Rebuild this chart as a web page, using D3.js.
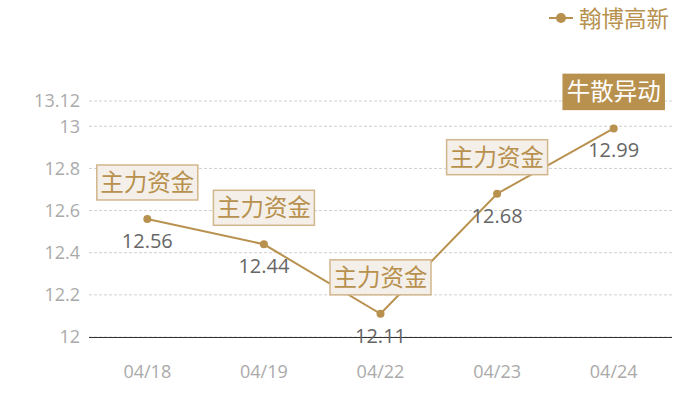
<!DOCTYPE html>
<html><head><meta charset="utf-8">
<script src="https://cdn.jsdelivr.net/npm/d3@7"></script>
<style>body{margin:0;background:#fff}svg{display:block}</style>
</head><body><svg id="c" width="700" height="400"></svg>
<script>
const categories = ["04/18","04/19","04/22","04/23","04/24"];
const values = [12.56, 12.44, 12.11, 12.68, 12.99];
const yTicks = [12, 12.2, 12.4, 12.6, 12.8, 13, 13.12];
const tags = ["主力资金","主力资金","主力资金","主力资金","牛散异动"];
const tagFilled = [false,false,false,false,true];
const seriesName = "翰博高新";

const gold = "#b8914f";
const svg = d3.select("#c");
const m = {l:89, r:672, t:101, b:337};
const x = d3.scaleBand().domain(categories).range([m.l, m.r]);
const y = d3.scaleLinear().domain([12, 13.12]).range([m.b, m.t]);
const cx = d => x(d) + x.bandwidth()/2;
const numFont = "'Open Sans','Noto Sans',sans-serif";
const cjkFont = "'Noto Sans CJK SC',sans-serif";

// grid
svg.append("g").selectAll("line").data(yTicks).join("line")
  .attr("x1", m.l).attr("x2", m.r).attr("y1", d=>y(d)).attr("y2", d=>y(d))
  .attr("stroke", "#d0d0d0").attr("stroke-dasharray", "3,2").attr("stroke-width",1);
// y labels
svg.append("g").selectAll("text").data(yTicks).join("text")
  .attr("x", 80).attr("y", d=>y(d)).attr("dy","0.36em").attr("text-anchor","end")
  .attr("fill","#aaa").attr("font-size",18).attr("font-family",numFont).text(d=>d);
// axis line
svg.append("line").attr("x1",m.l).attr("x2",m.r).attr("y1",m.b+0.5).attr("y2",m.b+0.5)
  .attr("stroke","#333").attr("stroke-width",1);
// x labels
svg.append("g").selectAll("text").data(categories).join("text")
  .attr("x", d=>cx(d)).attr("y", 372).attr("dy","0.36em").attr("text-anchor","middle")
  .attr("fill","#aaa").attr("font-size",18).attr("font-family",numFont).text(d=>d);

const pts = categories.map((c,i)=>({c, v:values[i], tag:tags[i], filled:tagFilled[i]}));
// line
svg.append("path").datum(pts)
  .attr("d", d3.line().x(d=>cx(d.c)).y(d=>y(d.v)))
  .attr("fill","none").attr("stroke",gold).attr("stroke-width",2);
// points
svg.append("g").selectAll("circle").data(pts).join("circle")
  .attr("cx", d=>cx(d.c)).attr("cy", d=>y(d.v)).attr("r",4).attr("fill",gold);
// value labels
svg.append("g").selectAll("text").data(pts).join("text")
  .attr("x", d=>cx(d.c)).attr("y", d=>y(d.v)+29).attr("text-anchor","middle")
  .attr("fill","#666").attr("font-size",20).attr("font-family",numFont).text(d=>d.v);
// tags
const tg = svg.append("g").selectAll("g").data(pts).join("g")
  .attr("transform", d=>`translate(${cx(d.c)},${y(d.v)-19})`);
tg.append("rect").attr("x",-50.5).attr("y",-35).attr("width",101).attr("height",35)
  .attr("fill", d=>d.filled?gold:"#f4efe8").attr("stroke", d=>d.filled?gold:"#d2b68c").attr("stroke-width",1.5);
tg.append("text").attr("x",0).attr("y",-17.5).attr("dy","0.36em").attr("text-anchor","middle")
  .attr("font-size",23.5).attr("font-family",cjkFont)
  .attr("fill", d=>d.filled?"#fff":gold).text(d=>d.tag);

// legend
const lg = svg.append("g");
lg.append("line").attr("x1",549).attr("x2",573).attr("y1",18).attr("y2",18).attr("stroke",gold).attr("stroke-width",2);
lg.append("circle").attr("cx",561).attr("cy",18).attr("r",5).attr("fill",gold);
lg.append("text").attr("x",579).attr("y",19).attr("dy","0.36em").attr("font-size",22.5)
  .attr("font-family",cjkFont).attr("fill",gold).text(seriesName);
</script></body></html>
